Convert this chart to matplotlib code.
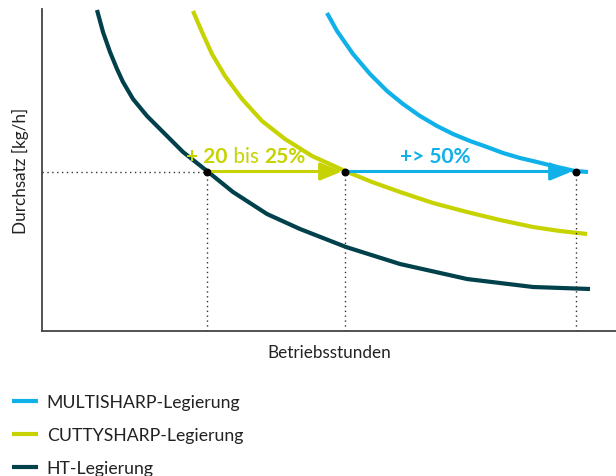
import matplotlib.pyplot as plt
from matplotlib.offsetbox import TextArea, HPacker, AnnotationBbox

plt.rcParams['font.family'] = ['Lato', 'DejaVu Sans']

# Kurven (Einheiten willkuerlich)
ht_x = [55, 61, 68, 75, 81, 91, 105, 121, 141, 165, 191, 225, 258, 304, 358, 425, 491, 548]
ht_y = [321, 299, 279, 262, 249, 232, 215, 199, 179, 160, 139, 117, 102, 84, 67, 52, 44, 42]

cutty_x = [151, 160, 170, 183, 200, 220, 243, 270, 303, 330, 358, 391, 425, 458, 491, 518, 545]
cutty_y = [320, 299, 277, 255, 232, 210, 192, 175, 160, 149, 139, 128, 119, 111, 104, 100, 97]

multi_x = [285, 295, 311, 328, 345, 361, 378, 395, 411, 428, 445, 461, 478, 495, 511, 533, 546]
multi_y = [318, 300, 277, 257, 240, 227, 215, 205, 197, 190, 184, 178, 173, 169, 165, 160, 159]

# Vergleichspunkte bei gleichem Durchsatz
durchsatz = 159.5
stunden = [165, 303, 534]

labels = ['MULTISHARP-Legierung', 'CUTTYSHARP-Legierung', 'HT-Legierung']
farben = ['#0fb1e8', '#c6d300', '#00414b']

fig = plt.figure(figsize=(6.16, 4.77), dpi=100)
ax = fig.add_axes([42 / 616, 1 - 332 / 477, 1 - 42 / 616, 322 / 477])

stil = dict(lw=3, solid_capstyle='butt', solid_joinstyle='round')
l1, = ax.plot(multi_x, multi_y, color=farben[0], **stil)
l2, = ax.plot(cutty_x, cutty_y, color=farben[1], **stil)
l3, = ax.plot(ht_x, ht_y, color=farben[2], **stil)

# gepunktete Hilfslinien
ax.plot([0, stunden[0]], [durchsatz, durchsatz], color='#333333', lw=1, ls=(0, (1, 2.5)))
for s in stunden:
    ax.plot([s, s], [0, durchsatz], color='#333333', lw=1, ls=(0, (1, 2.5)))

# Pfeile
ax.annotate('', xy=(stunden[1] - 3, durchsatz), xytext=(stunden[0], durchsatz),
            arrowprops=dict(arrowstyle='-|>,head_length=1.1,head_width=0.45', color=farben[1],
                            lw=2.2, shrinkA=0, shrinkB=0, mutation_scale=12))
ax.annotate('', xy=(stunden[2] - 4, durchsatz), xytext=(stunden[1], durchsatz),
            arrowprops=dict(arrowstyle='-|>,head_length=1.1,head_width=0.45', color=farben[0],
                            lw=2.2, shrinkA=0, shrinkB=0, mutation_scale=12))

ax.scatter(stunden, [durchsatz] * 3, s=22, color='black', zorder=5)

# Beschriftungen mit gemischter Schriftstaerke
def mixed(parts, color, x, y):
    areas = [TextArea(t, textprops=dict(color=color, fontsize=15, fontweight=w)) for t, w in parts]
    box = HPacker(children=areas, align='baseline', pad=0, sep=0)
    ab = AnnotationBbox(box, (x, y), xycoords='data', frameon=False, box_alignment=(0.5, 0))
    ax.add_artist(ab)

mixed([('+ 20', 'bold'), (' bis ', 'normal'), ('25%', 'bold')], farben[1], 204, 165)
mixed([('+> 50%', 'bold')], farben[0], 393, 165)

ax.set_xlim(0, 574)
ax.set_ylim(0, 322)
ax.set_xticks([])
ax.set_yticks([])
for sp in ['top', 'right']:
    ax.spines[sp].set_visible(False)
for sp in ['left', 'bottom']:
    ax.spines[sp].set_color('#444444')
    ax.spines[sp].set_linewidth(1.3)

ax.set_xlabel('Betriebsstunden', fontsize=12.3, color='#222222', labelpad=9)
ax.set_ylabel('Durchsatz [kg/h]', fontsize=12.3, color='#222222', labelpad=9)

fig.legend([l1, l2, l3], labels, loc='upper left', bbox_to_anchor=(0.019, 0.1715),
           frameon=False, fontsize=12.7, handlelength=1.48, handletextpad=0.5,
           labelspacing=0.95, borderpad=0, borderaxespad=0, labelcolor='#222222')

fig.savefig('out.png', dpi=100)
